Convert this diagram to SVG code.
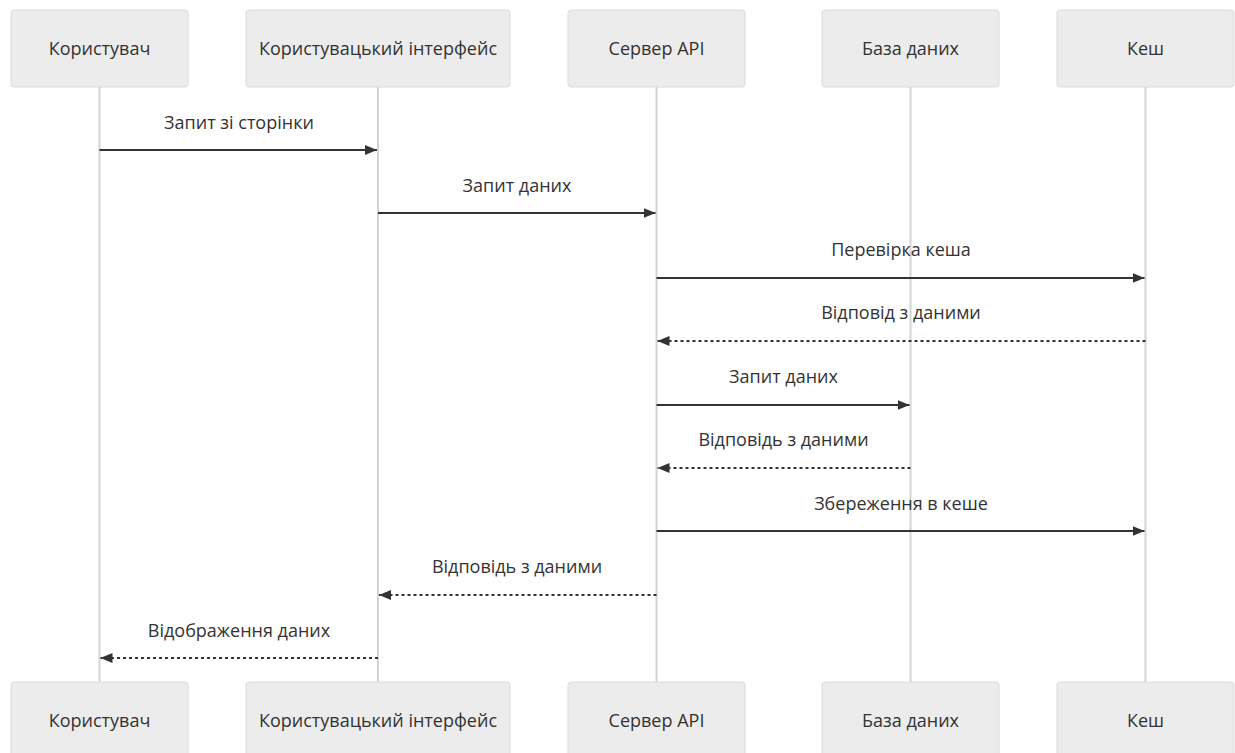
<svg xmlns="http://www.w3.org/2000/svg" width="1235" height="753" viewBox="0 0 1235 753">
  <style>
    .actor { fill: #ececec; stroke: #dcdcdc; stroke-width: 1; }
    .label { font-family: "Open Sans", "Noto Sans", sans-serif; font-size: 18px; fill: #333; text-anchor: middle; }
    .life { stroke: #d4d4d4; stroke-width: 2; }
    .msg { stroke: #333; stroke-width: 2; fill: none; }
    .dash { stroke-dasharray: 3 3; }
  </style>
  <defs>
    <marker id="head" viewBox="0 0 12 10" refX="12" refY="5" markerWidth="12" markerHeight="10" markerUnits="userSpaceOnUse" orient="auto">
      <path d="M0,0 L12,5 L0,10 Z" fill="#333"/>
    </marker>
  </defs>
  <rect width="1235" height="753" fill="#ffffff"/>

  <!-- lifelines -->
  <g id="lifelines">
    <line class="life" x1="99.5" y1="87" x2="99.5" y2="682"/>
    <line class="life" x1="378" y1="87" x2="378" y2="682"/>
    <line class="life" x1="656.5" y1="87" x2="656.5" y2="682"/>
    <line class="life" x1="910.5" y1="87" x2="910.5" y2="682"/>
    <line class="life" x1="1145.5" y1="87" x2="1145.5" y2="682"/>
  </g>

  <!-- participants (top) -->
  <g id="user-top"><rect class="actor" x="11" y="10" width="177" height="77" rx="3"/><text class="label" x="99.5" y="55">Користувач</text></g>
  <g id="ui-top"><rect class="actor" x="246" y="10" width="264" height="77" rx="3"/><text class="label" x="378" y="55">Користувацький інтерфейс</text></g>
  <g id="api-top"><rect class="actor" x="568" y="10" width="177" height="77" rx="3"/><text class="label" x="656.5" y="55">Сервер API</text></g>
  <g id="db-top"><rect class="actor" x="822" y="10" width="177" height="77" rx="3"/><text class="label" x="910.5" y="55">База даних</text></g>
  <g id="cache-top"><rect class="actor" x="1057" y="10" width="177" height="77" rx="3"/><text class="label" x="1145.5" y="55">Кеш</text></g>

  <!-- participants (bottom) -->
  <g id="user-bottom"><rect class="actor" x="11" y="682" width="177" height="77" rx="3"/><text class="label" x="99.5" y="727">Користувач</text></g>
  <g id="ui-bottom"><rect class="actor" x="246" y="682" width="264" height="77" rx="3"/><text class="label" x="378" y="727">Користувацький інтерфейс</text></g>
  <g id="api-bottom"><rect class="actor" x="568" y="682" width="177" height="77" rx="3"/><text class="label" x="656.5" y="727">Сервер API</text></g>
  <g id="db-bottom"><rect class="actor" x="822" y="682" width="177" height="77" rx="3"/><text class="label" x="910.5" y="727">База даних</text></g>
  <g id="cache-bottom"><rect class="actor" x="1057" y="682" width="177" height="77" rx="3"/><text class="label" x="1145.5" y="727">Кеш</text></g>

  <!-- messages -->
  <g id="connectors">
    <line class="msg" x1="99.5" y1="150" x2="377" y2="150" marker-end="url(#head)"/>
    <line class="msg" x1="378" y1="213" x2="655.5" y2="213" marker-end="url(#head)"/>
    <line class="msg" x1="656.5" y1="278" x2="1144.5" y2="278" marker-end="url(#head)"/>
    <line class="msg dash" x1="1145.5" y1="341" x2="657.5" y2="341" marker-end="url(#head)"/>
    <line class="msg" x1="656.5" y1="405" x2="909.5" y2="405" marker-end="url(#head)"/>
    <line class="msg dash" x1="910.5" y1="468" x2="657.5" y2="468" marker-end="url(#head)"/>
    <line class="msg" x1="656.5" y1="531" x2="1144.5" y2="531" marker-end="url(#head)"/>
    <line class="msg dash" x1="656.5" y1="595" x2="379" y2="595" marker-end="url(#head)"/>
    <line class="msg dash" x1="378" y1="658" x2="100.5" y2="658" marker-end="url(#head)"/>
  </g>

  <!-- message labels -->
  <g id="message-labels">
    <text class="label" x="239" y="129">Запит зі сторінки</text>
    <text class="label" x="517" y="192">Запит даних</text>
    <text class="label" x="901" y="256">Перевірка кеша</text>
    <text class="label" x="901" y="319">Відповід з даними</text>
    <text class="label" x="783.5" y="383">Запит даних</text>
    <text class="label" x="783.5" y="446">Відповідь з даними</text>
    <text class="label" x="901" y="510">Збереження в кеше</text>
    <text class="label" x="517" y="573">Відповідь з даними</text>
    <text class="label" x="239" y="637">Відображення даних</text>
  </g>
</svg>
